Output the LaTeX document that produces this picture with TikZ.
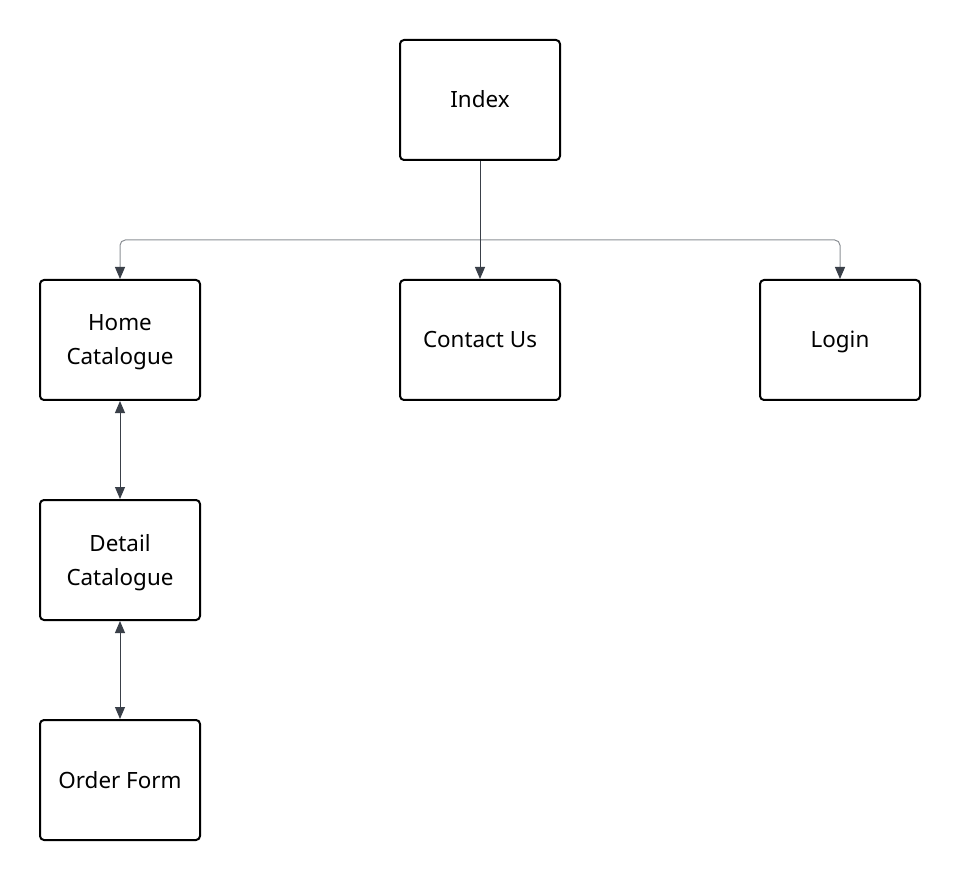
\documentclass[tikz,border=0pt]{standalone}
\usepackage{fontspec}
\setmainfont{Noto Sans}
\usetikzlibrary{arrows.meta}

\definecolor{linkdark}{HTML}{3A4049}
\definecolor{linkgrey}{HTML}{8C9095}

\tikzset{
  page/.style={draw=black, line width=1.5pt, rounded corners=3pt,
    minimum width=120pt, minimum height=90pt, align=center,
    text depth=0pt, font=\fontsize{16.8}{25.5}\selectfont},
  oneline/.style={text height=12pt},
  link/.style={draw=linkdark, line width=0.75pt},
  branch/.style={draw=linkgrey, line width=0.75pt, rounded corners=4pt},
  tip/.style={-{Triangle[length=9pt, width=7.5pt, color=linkdark]}},
  twotip/.style={{Triangle[length=9pt, width=7.5pt]}-{Triangle[length=9pt, width=7.5pt]}}
}

\begin{document}
\begin{tikzpicture}[x=0.75pt, y=-0.75pt]

\useasboundingbox (0, 0) rectangle (960, 880);

% Pages
\node[page, oneline] (index) at (480, 100) {Index};
\node[page] (home) at (120, 340) {Home\\Catalogue};
\node[page, oneline] (contact) at (480, 340) {Contact Us};
\node[page, oneline] (login) at (840, 340) {Login};
\node[page] (detail) at (120, 560) {Detail\\Catalogue};
\node[page, oneline] (order) at (120, 780) {Order Form};

% Split point under Index
\coordinate (split) at (480, 240);

% Index to the three pages
\draw[branch, tip] (split) -| (home.north);
\draw[branch, tip] (split) -| (login.north);
\draw[link, tip] (index.south) -- (contact.north);

% Catalogue chain
\draw[link, twotip] (home.south) -- (detail.north);
\draw[link, twotip] (detail.south) -- (order.north);

\end{tikzpicture}
\end{document}
